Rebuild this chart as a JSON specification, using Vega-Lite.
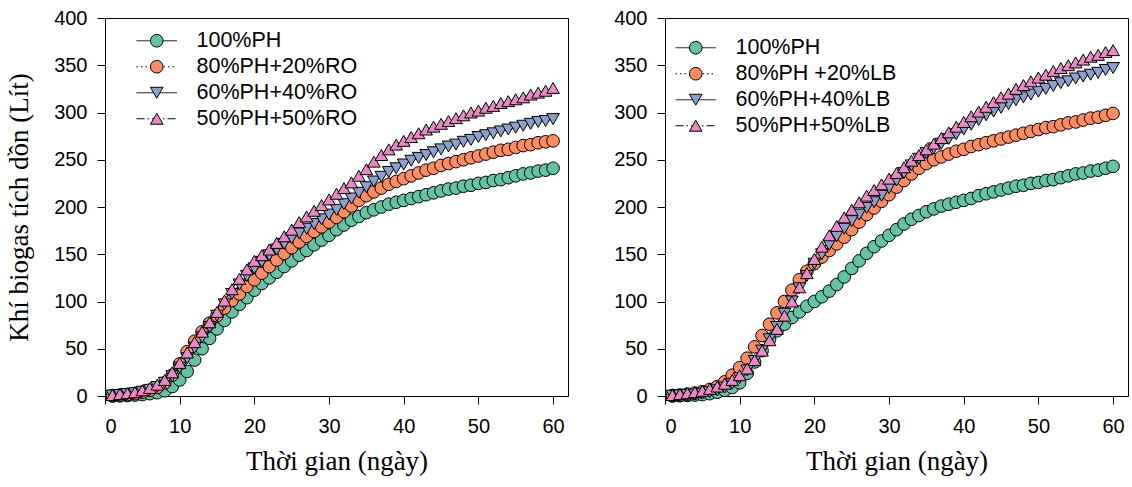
{
"$schema": "https://vega.github.io/schema/vega-lite/v6.json",
"padding": {"left": 5, "top": 7, "right": 4, "bottom": 2},
"spacing": 44,
"config": {
  "view": {"stroke": "black", "strokeWidth": 1},
  "axis": {"grid": false, "domainColor": "black", "tickColor": "black", "tickSize": 8, "labelFont": "Liberation Sans", "labelFontSize": 20, "labelColor": "black", "titleFont": "Liberation Serif", "titleFontSize": 27, "titleFontWeight": "normal", "titleColor": "black"},
  "axisX": {"labelPadding": 12, "titlePadding": 12},
  "axisY": {"labelPadding": 10, "titlePadding": 20},
  "legend": {"labelFont": "Liberation Sans", "labelFontSize": 21.5, "labelColor": "black", "labelLimit": 400, "padding": 0, "rowPadding": 3, "symbolSize": 160, "symbolStrokeColor": "black", "symbolStrokeWidth": 1, "title": null}
},
"resolve": {"scale": {"color": "independent", "shape": "independent", "strokeDash": "independent"}},
"datasets": {
"ro": [
{"d":1,"s":"100%PH","v":0},{"d":2,"s":"100%PH","v":0.2},{"d":3,"s":"100%PH","v":0.5},{"d":4,"s":"100%PH","v":1},{"d":5,"s":"100%PH","v":1.5},{"d":6,"s":"100%PH","v":2.5},{"d":7,"s":"100%PH","v":3.5},{"d":8,"s":"100%PH","v":5.5},{"d":9,"s":"100%PH","v":10},{"d":10,"s":"100%PH","v":17},
{"d":11,"s":"100%PH","v":26},{"d":12,"s":"100%PH","v":38},{"d":13,"s":"100%PH","v":50},{"d":14,"s":"100%PH","v":61},{"d":15,"s":"100%PH","v":71},{"d":16,"s":"100%PH","v":80},{"d":17,"s":"100%PH","v":89},{"d":18,"s":"100%PH","v":97},{"d":19,"s":"100%PH","v":104},{"d":20,"s":"100%PH","v":112},
{"d":21,"s":"100%PH","v":119},{"d":22,"s":"100%PH","v":125},{"d":23,"s":"100%PH","v":131},{"d":24,"s":"100%PH","v":137},{"d":25,"s":"100%PH","v":143},{"d":26,"s":"100%PH","v":149},{"d":27,"s":"100%PH","v":154},{"d":28,"s":"100%PH","v":160},{"d":29,"s":"100%PH","v":165},{"d":30,"s":"100%PH","v":170},
{"d":31,"s":"100%PH","v":176},{"d":32,"s":"100%PH","v":181},{"d":33,"s":"100%PH","v":186},{"d":34,"s":"100%PH","v":190},{"d":35,"s":"100%PH","v":194},{"d":36,"s":"100%PH","v":197},{"d":37,"s":"100%PH","v":200},{"d":38,"s":"100%PH","v":203},{"d":39,"s":"100%PH","v":205},{"d":40,"s":"100%PH","v":207},
{"d":41,"s":"100%PH","v":209},{"d":42,"s":"100%PH","v":211},{"d":43,"s":"100%PH","v":213},{"d":44,"s":"100%PH","v":215},{"d":45,"s":"100%PH","v":217},{"d":46,"s":"100%PH","v":219},{"d":47,"s":"100%PH","v":220},{"d":48,"s":"100%PH","v":222},{"d":49,"s":"100%PH","v":223},{"d":50,"s":"100%PH","v":225},
{"d":51,"s":"100%PH","v":226},{"d":52,"s":"100%PH","v":228},{"d":53,"s":"100%PH","v":229},{"d":54,"s":"100%PH","v":231},{"d":55,"s":"100%PH","v":233},{"d":56,"s":"100%PH","v":235},{"d":57,"s":"100%PH","v":236},{"d":58,"s":"100%PH","v":238},{"d":59,"s":"100%PH","v":239},{"d":60,"s":"100%PH","v":241},
{"d":1,"s":"80%PH+20%RO","v":0.5},{"d":2,"s":"80%PH+20%RO","v":1},{"d":3,"s":"80%PH+20%RO","v":1.5},{"d":4,"s":"80%PH+20%RO","v":2.5},{"d":5,"s":"80%PH+20%RO","v":4},{"d":6,"s":"80%PH+20%RO","v":6},{"d":7,"s":"80%PH+20%RO","v":9},{"d":8,"s":"80%PH+20%RO","v":14},{"d":9,"s":"80%PH+20%RO","v":22},{"d":10,"s":"80%PH+20%RO","v":34},
{"d":11,"s":"80%PH+20%RO","v":47},{"d":12,"s":"80%PH+20%RO","v":58},{"d":13,"s":"80%PH+20%RO","v":68},{"d":14,"s":"80%PH+20%RO","v":77},{"d":15,"s":"80%PH+20%RO","v":85},{"d":16,"s":"80%PH+20%RO","v":93},{"d":17,"s":"80%PH+20%RO","v":101},{"d":18,"s":"80%PH+20%RO","v":108},{"d":19,"s":"80%PH+20%RO","v":116},{"d":20,"s":"80%PH+20%RO","v":123},
{"d":21,"s":"80%PH+20%RO","v":130},{"d":22,"s":"80%PH+20%RO","v":137},{"d":23,"s":"80%PH+20%RO","v":144},{"d":24,"s":"80%PH+20%RO","v":151},{"d":25,"s":"80%PH+20%RO","v":157},{"d":26,"s":"80%PH+20%RO","v":163},{"d":27,"s":"80%PH+20%RO","v":169},{"d":28,"s":"80%PH+20%RO","v":174},{"d":29,"s":"80%PH+20%RO","v":179},{"d":30,"s":"80%PH+20%RO","v":184},
{"d":31,"s":"80%PH+20%RO","v":189},{"d":32,"s":"80%PH+20%RO","v":195},{"d":33,"s":"80%PH+20%RO","v":201},{"d":34,"s":"80%PH+20%RO","v":207},{"d":35,"s":"80%PH+20%RO","v":212},{"d":36,"s":"80%PH+20%RO","v":216},{"d":37,"s":"80%PH+20%RO","v":220},{"d":38,"s":"80%PH+20%RO","v":224},{"d":39,"s":"80%PH+20%RO","v":227},{"d":40,"s":"80%PH+20%RO","v":230},
{"d":41,"s":"80%PH+20%RO","v":233},{"d":42,"s":"80%PH+20%RO","v":236},{"d":43,"s":"80%PH+20%RO","v":239},{"d":44,"s":"80%PH+20%RO","v":241},{"d":45,"s":"80%PH+20%RO","v":244},{"d":46,"s":"80%PH+20%RO","v":246},{"d":47,"s":"80%PH+20%RO","v":248},{"d":48,"s":"80%PH+20%RO","v":250},{"d":49,"s":"80%PH+20%RO","v":252},{"d":50,"s":"80%PH+20%RO","v":254},
{"d":51,"s":"80%PH+20%RO","v":256},{"d":52,"s":"80%PH+20%RO","v":258},{"d":53,"s":"80%PH+20%RO","v":260},{"d":54,"s":"80%PH+20%RO","v":261},{"d":55,"s":"80%PH+20%RO","v":263},{"d":56,"s":"80%PH+20%RO","v":265},{"d":57,"s":"80%PH+20%RO","v":266},{"d":58,"s":"80%PH+20%RO","v":268},{"d":59,"s":"80%PH+20%RO","v":269},{"d":60,"s":"80%PH+20%RO","v":270},
{"d":1,"s":"60%PH+40%RO","v":0.5},{"d":2,"s":"60%PH+40%RO","v":1},{"d":3,"s":"60%PH+40%RO","v":2},{"d":4,"s":"60%PH+40%RO","v":3},{"d":5,"s":"60%PH+40%RO","v":4.5},{"d":6,"s":"60%PH+40%RO","v":6.5},{"d":7,"s":"60%PH+40%RO","v":9.5},{"d":8,"s":"60%PH+40%RO","v":14},{"d":9,"s":"60%PH+40%RO","v":21},{"d":10,"s":"60%PH+40%RO","v":30},
{"d":11,"s":"60%PH+40%RO","v":40},{"d":12,"s":"60%PH+40%RO","v":51},{"d":13,"s":"60%PH+40%RO","v":62},{"d":14,"s":"60%PH+40%RO","v":73},{"d":15,"s":"60%PH+40%RO","v":85},{"d":16,"s":"60%PH+40%RO","v":97},{"d":17,"s":"60%PH+40%RO","v":108},{"d":18,"s":"60%PH+40%RO","v":118},{"d":19,"s":"60%PH+40%RO","v":127},{"d":20,"s":"60%PH+40%RO","v":135},
{"d":21,"s":"60%PH+40%RO","v":142},{"d":22,"s":"60%PH+40%RO","v":149},{"d":23,"s":"60%PH+40%RO","v":155},{"d":24,"s":"60%PH+40%RO","v":161},{"d":25,"s":"60%PH+40%RO","v":167},{"d":26,"s":"60%PH+40%RO","v":172},{"d":27,"s":"60%PH+40%RO","v":177},{"d":28,"s":"60%PH+40%RO","v":182},{"d":29,"s":"60%PH+40%RO","v":187},{"d":30,"s":"60%PH+40%RO","v":192},
{"d":31,"s":"60%PH+40%RO","v":197},{"d":32,"s":"60%PH+40%RO","v":203},{"d":33,"s":"60%PH+40%RO","v":209},{"d":34,"s":"60%PH+40%RO","v":215},{"d":35,"s":"60%PH+40%RO","v":221},{"d":36,"s":"60%PH+40%RO","v":227},{"d":37,"s":"60%PH+40%RO","v":232},{"d":38,"s":"60%PH+40%RO","v":237},{"d":39,"s":"60%PH+40%RO","v":241},{"d":40,"s":"60%PH+40%RO","v":245},
{"d":41,"s":"60%PH+40%RO","v":249},{"d":42,"s":"60%PH+40%RO","v":252},{"d":43,"s":"60%PH+40%RO","v":255},{"d":44,"s":"60%PH+40%RO","v":258},{"d":45,"s":"60%PH+40%RO","v":261},{"d":46,"s":"60%PH+40%RO","v":264},{"d":47,"s":"60%PH+40%RO","v":266},{"d":48,"s":"60%PH+40%RO","v":269},{"d":49,"s":"60%PH+40%RO","v":271},{"d":50,"s":"60%PH+40%RO","v":274},
{"d":51,"s":"60%PH+40%RO","v":276},{"d":52,"s":"60%PH+40%RO","v":278},{"d":53,"s":"60%PH+40%RO","v":280},{"d":54,"s":"60%PH+40%RO","v":282},{"d":55,"s":"60%PH+40%RO","v":284},{"d":56,"s":"60%PH+40%RO","v":286},{"d":57,"s":"60%PH+40%RO","v":288},{"d":58,"s":"60%PH+40%RO","v":290},{"d":59,"s":"60%PH+40%RO","v":291},{"d":60,"s":"60%PH+40%RO","v":293},
{"d":1,"s":"50%PH+50%RO","v":1},{"d":2,"s":"50%PH+50%RO","v":2},{"d":3,"s":"50%PH+50%RO","v":3},{"d":4,"s":"50%PH+50%RO","v":4},{"d":5,"s":"50%PH+50%RO","v":6},{"d":6,"s":"50%PH+50%RO","v":8.5},{"d":7,"s":"50%PH+50%RO","v":12},{"d":8,"s":"50%PH+50%RO","v":17},{"d":9,"s":"50%PH+50%RO","v":25},{"d":10,"s":"50%PH+50%RO","v":35},
{"d":11,"s":"50%PH+50%RO","v":46},{"d":12,"s":"50%PH+50%RO","v":57},{"d":13,"s":"50%PH+50%RO","v":68},{"d":14,"s":"50%PH+50%RO","v":78},{"d":15,"s":"50%PH+50%RO","v":89},{"d":16,"s":"50%PH+50%RO","v":101},{"d":17,"s":"50%PH+50%RO","v":113},{"d":18,"s":"50%PH+50%RO","v":124},{"d":19,"s":"50%PH+50%RO","v":134},{"d":20,"s":"50%PH+50%RO","v":143},
{"d":21,"s":"50%PH+50%RO","v":149},{"d":22,"s":"50%PH+50%RO","v":155},{"d":23,"s":"50%PH+50%RO","v":162},{"d":24,"s":"50%PH+50%RO","v":169},{"d":25,"s":"50%PH+50%RO","v":176},{"d":26,"s":"50%PH+50%RO","v":184},{"d":27,"s":"50%PH+50%RO","v":190},{"d":28,"s":"50%PH+50%RO","v":196},{"d":29,"s":"50%PH+50%RO","v":202},{"d":30,"s":"50%PH+50%RO","v":208},
{"d":31,"s":"50%PH+50%RO","v":214},{"d":32,"s":"50%PH+50%RO","v":220},{"d":33,"s":"50%PH+50%RO","v":226},{"d":34,"s":"50%PH+50%RO","v":233},{"d":35,"s":"50%PH+50%RO","v":240},{"d":36,"s":"50%PH+50%RO","v":248},{"d":37,"s":"50%PH+50%RO","v":255},{"d":38,"s":"50%PH+50%RO","v":261},{"d":39,"s":"50%PH+50%RO","v":266},{"d":40,"s":"50%PH+50%RO","v":270},
{"d":41,"s":"50%PH+50%RO","v":274},{"d":42,"s":"50%PH+50%RO","v":278},{"d":43,"s":"50%PH+50%RO","v":282},{"d":44,"s":"50%PH+50%RO","v":285},{"d":45,"s":"50%PH+50%RO","v":288},{"d":46,"s":"50%PH+50%RO","v":291},{"d":47,"s":"50%PH+50%RO","v":294},{"d":48,"s":"50%PH+50%RO","v":297},{"d":49,"s":"50%PH+50%RO","v":300},{"d":50,"s":"50%PH+50%RO","v":302},
{"d":51,"s":"50%PH+50%RO","v":305},{"d":52,"s":"50%PH+50%RO","v":307},{"d":53,"s":"50%PH+50%RO","v":310},{"d":54,"s":"50%PH+50%RO","v":312},{"d":55,"s":"50%PH+50%RO","v":314},{"d":56,"s":"50%PH+50%RO","v":316},{"d":57,"s":"50%PH+50%RO","v":319},{"d":58,"s":"50%PH+50%RO","v":321},{"d":59,"s":"50%PH+50%RO","v":323},{"d":60,"s":"50%PH+50%RO","v":326}
],
"lb": [
{"d":1,"s":"100%PH","v":0},{"d":2,"s":"100%PH","v":0.3},{"d":3,"s":"100%PH","v":0.6},{"d":4,"s":"100%PH","v":1},{"d":5,"s":"100%PH","v":1.5},{"d":6,"s":"100%PH","v":2.5},{"d":7,"s":"100%PH","v":4},{"d":8,"s":"100%PH","v":6},{"d":9,"s":"100%PH","v":9},{"d":10,"s":"100%PH","v":14},
{"d":11,"s":"100%PH","v":24},{"d":12,"s":"100%PH","v":36},{"d":13,"s":"100%PH","v":48},{"d":14,"s":"100%PH","v":60},{"d":15,"s":"100%PH","v":69},{"d":16,"s":"100%PH","v":76},{"d":17,"s":"100%PH","v":83},{"d":18,"s":"100%PH","v":89},{"d":19,"s":"100%PH","v":95},{"d":20,"s":"100%PH","v":100},
{"d":21,"s":"100%PH","v":105},{"d":22,"s":"100%PH","v":111},{"d":23,"s":"100%PH","v":118},{"d":24,"s":"100%PH","v":126},{"d":25,"s":"100%PH","v":135},{"d":26,"s":"100%PH","v":143},{"d":27,"s":"100%PH","v":151},{"d":28,"s":"100%PH","v":158},{"d":29,"s":"100%PH","v":164},{"d":30,"s":"100%PH","v":170},
{"d":31,"s":"100%PH","v":176},{"d":32,"s":"100%PH","v":182},{"d":33,"s":"100%PH","v":187},{"d":34,"s":"100%PH","v":191},{"d":35,"s":"100%PH","v":195},{"d":36,"s":"100%PH","v":198},{"d":37,"s":"100%PH","v":201},{"d":38,"s":"100%PH","v":203},{"d":39,"s":"100%PH","v":205},{"d":40,"s":"100%PH","v":207},
{"d":41,"s":"100%PH","v":209},{"d":42,"s":"100%PH","v":212},{"d":43,"s":"100%PH","v":214},{"d":44,"s":"100%PH","v":216},{"d":45,"s":"100%PH","v":218},{"d":46,"s":"100%PH","v":220},{"d":47,"s":"100%PH","v":222},{"d":48,"s":"100%PH","v":223},{"d":49,"s":"100%PH","v":225},{"d":50,"s":"100%PH","v":226},
{"d":51,"s":"100%PH","v":228},{"d":52,"s":"100%PH","v":229},{"d":53,"s":"100%PH","v":231},{"d":54,"s":"100%PH","v":233},{"d":55,"s":"100%PH","v":235},{"d":56,"s":"100%PH","v":236},{"d":57,"s":"100%PH","v":238},{"d":58,"s":"100%PH","v":239},{"d":59,"s":"100%PH","v":241},{"d":60,"s":"100%PH","v":243},
{"d":1,"s":"80%PH +20%LB","v":0.5},{"d":2,"s":"80%PH +20%LB","v":1},{"d":3,"s":"80%PH +20%LB","v":2},{"d":4,"s":"80%PH +20%LB","v":3},{"d":5,"s":"80%PH +20%LB","v":4.5},{"d":6,"s":"80%PH +20%LB","v":7},{"d":7,"s":"80%PH +20%LB","v":10},{"d":8,"s":"80%PH +20%LB","v":15},{"d":9,"s":"80%PH +20%LB","v":22},{"d":10,"s":"80%PH +20%LB","v":30},
{"d":11,"s":"80%PH +20%LB","v":40},{"d":12,"s":"80%PH +20%LB","v":52},{"d":13,"s":"80%PH +20%LB","v":64},{"d":14,"s":"80%PH +20%LB","v":76},{"d":15,"s":"80%PH +20%LB","v":88},{"d":16,"s":"80%PH +20%LB","v":100},{"d":17,"s":"80%PH +20%LB","v":112},{"d":18,"s":"80%PH +20%LB","v":123},{"d":19,"s":"80%PH +20%LB","v":132},{"d":20,"s":"80%PH +20%LB","v":140},
{"d":21,"s":"80%PH +20%LB","v":147},{"d":22,"s":"80%PH +20%LB","v":154},{"d":23,"s":"80%PH +20%LB","v":161},{"d":24,"s":"80%PH +20%LB","v":168},{"d":25,"s":"80%PH +20%LB","v":176},{"d":26,"s":"80%PH +20%LB","v":184},{"d":27,"s":"80%PH +20%LB","v":192},{"d":28,"s":"80%PH +20%LB","v":199},{"d":29,"s":"80%PH +20%LB","v":206},{"d":30,"s":"80%PH +20%LB","v":213},
{"d":31,"s":"80%PH +20%LB","v":221},{"d":32,"s":"80%PH +20%LB","v":228},{"d":33,"s":"80%PH +20%LB","v":235},{"d":34,"s":"80%PH +20%LB","v":241},{"d":35,"s":"80%PH +20%LB","v":246},{"d":36,"s":"80%PH +20%LB","v":250},{"d":37,"s":"80%PH +20%LB","v":253},{"d":38,"s":"80%PH +20%LB","v":256},{"d":39,"s":"80%PH +20%LB","v":259},{"d":40,"s":"80%PH +20%LB","v":261},
{"d":41,"s":"80%PH +20%LB","v":264},{"d":42,"s":"80%PH +20%LB","v":266},{"d":43,"s":"80%PH +20%LB","v":268},{"d":44,"s":"80%PH +20%LB","v":270},{"d":45,"s":"80%PH +20%LB","v":272},{"d":46,"s":"80%PH +20%LB","v":274},{"d":47,"s":"80%PH +20%LB","v":276},{"d":48,"s":"80%PH +20%LB","v":278},{"d":49,"s":"80%PH +20%LB","v":280},{"d":50,"s":"80%PH +20%LB","v":282},
{"d":51,"s":"80%PH +20%LB","v":284},{"d":52,"s":"80%PH +20%LB","v":285},{"d":53,"s":"80%PH +20%LB","v":287},{"d":54,"s":"80%PH +20%LB","v":289},{"d":55,"s":"80%PH +20%LB","v":290},{"d":56,"s":"80%PH +20%LB","v":292},{"d":57,"s":"80%PH +20%LB","v":294},{"d":58,"s":"80%PH +20%LB","v":295},{"d":59,"s":"80%PH +20%LB","v":297},{"d":60,"s":"80%PH +20%LB","v":299},
{"d":1,"s":"60%PH+40%LB","v":0.3},{"d":2,"s":"60%PH+40%LB","v":0.6},{"d":3,"s":"60%PH+40%LB","v":1},{"d":4,"s":"60%PH+40%LB","v":1.5},{"d":5,"s":"60%PH+40%LB","v":2.5},{"d":6,"s":"60%PH+40%LB","v":4},{"d":7,"s":"60%PH+40%LB","v":6},{"d":8,"s":"60%PH+40%LB","v":9},{"d":9,"s":"60%PH+40%LB","v":13},{"d":10,"s":"60%PH+40%LB","v":19},
{"d":11,"s":"60%PH+40%LB","v":27},{"d":12,"s":"60%PH+40%LB","v":37},{"d":13,"s":"60%PH+40%LB","v":48},{"d":14,"s":"60%PH+40%LB","v":60},{"d":15,"s":"60%PH+40%LB","v":73},{"d":16,"s":"60%PH+40%LB","v":87},{"d":17,"s":"60%PH+40%LB","v":100},{"d":18,"s":"60%PH+40%LB","v":114},{"d":19,"s":"60%PH+40%LB","v":127},{"d":20,"s":"60%PH+40%LB","v":140},
{"d":21,"s":"60%PH+40%LB","v":150},{"d":22,"s":"60%PH+40%LB","v":160},{"d":23,"s":"60%PH+40%LB","v":169},{"d":24,"s":"60%PH+40%LB","v":177},{"d":25,"s":"60%PH+40%LB","v":185},{"d":26,"s":"60%PH+40%LB","v":192},{"d":27,"s":"60%PH+40%LB","v":199},{"d":28,"s":"60%PH+40%LB","v":205},{"d":29,"s":"60%PH+40%LB","v":212},{"d":30,"s":"60%PH+40%LB","v":220},
{"d":31,"s":"60%PH+40%LB","v":228},{"d":32,"s":"60%PH+40%LB","v":236},{"d":33,"s":"60%PH+40%LB","v":244},{"d":34,"s":"60%PH+40%LB","v":251},{"d":35,"s":"60%PH+40%LB","v":257},{"d":36,"s":"60%PH+40%LB","v":262},{"d":37,"s":"60%PH+40%LB","v":267},{"d":38,"s":"60%PH+40%LB","v":272},{"d":39,"s":"60%PH+40%LB","v":277},{"d":40,"s":"60%PH+40%LB","v":282},
{"d":41,"s":"60%PH+40%LB","v":287},{"d":42,"s":"60%PH+40%LB","v":292},{"d":43,"s":"60%PH+40%LB","v":297},{"d":44,"s":"60%PH+40%LB","v":301},{"d":45,"s":"60%PH+40%LB","v":305},{"d":46,"s":"60%PH+40%LB","v":309},{"d":47,"s":"60%PH+40%LB","v":313},{"d":48,"s":"60%PH+40%LB","v":316},{"d":49,"s":"60%PH+40%LB","v":319},{"d":50,"s":"60%PH+40%LB","v":322},
{"d":51,"s":"60%PH+40%LB","v":325},{"d":52,"s":"60%PH+40%LB","v":328},{"d":53,"s":"60%PH+40%LB","v":331},{"d":54,"s":"60%PH+40%LB","v":333},{"d":55,"s":"60%PH+40%LB","v":336},{"d":56,"s":"60%PH+40%LB","v":338},{"d":57,"s":"60%PH+40%LB","v":340},{"d":58,"s":"60%PH+40%LB","v":342},{"d":59,"s":"60%PH+40%LB","v":345},{"d":60,"s":"60%PH+40%LB","v":347},
{"d":1,"s":"50%PH+50%LB","v":1},{"d":2,"s":"50%PH+50%LB","v":2},{"d":3,"s":"50%PH+50%LB","v":3},{"d":4,"s":"50%PH+50%LB","v":4},{"d":5,"s":"50%PH+50%LB","v":5.5},{"d":6,"s":"50%PH+50%LB","v":7.5},{"d":7,"s":"50%PH+50%LB","v":10},{"d":8,"s":"50%PH+50%LB","v":13},{"d":9,"s":"50%PH+50%LB","v":17},{"d":10,"s":"50%PH+50%LB","v":22},
{"d":11,"s":"50%PH+50%LB","v":29},{"d":12,"s":"50%PH+50%LB","v":38},{"d":13,"s":"50%PH+50%LB","v":48},{"d":14,"s":"50%PH+50%LB","v":59},{"d":15,"s":"50%PH+50%LB","v":71},{"d":16,"s":"50%PH+50%LB","v":85},{"d":17,"s":"50%PH+50%LB","v":100},{"d":18,"s":"50%PH+50%LB","v":115},{"d":19,"s":"50%PH+50%LB","v":130},{"d":20,"s":"50%PH+50%LB","v":145},
{"d":21,"s":"50%PH+50%LB","v":158},{"d":22,"s":"50%PH+50%LB","v":170},{"d":23,"s":"50%PH+50%LB","v":180},{"d":24,"s":"50%PH+50%LB","v":189},{"d":25,"s":"50%PH+50%LB","v":197},{"d":26,"s":"50%PH+50%LB","v":205},{"d":27,"s":"50%PH+50%LB","v":212},{"d":28,"s":"50%PH+50%LB","v":218},{"d":29,"s":"50%PH+50%LB","v":224},{"d":30,"s":"50%PH+50%LB","v":230},
{"d":31,"s":"50%PH+50%LB","v":236},{"d":32,"s":"50%PH+50%LB","v":242},{"d":33,"s":"50%PH+50%LB","v":249},{"d":34,"s":"50%PH+50%LB","v":255},{"d":35,"s":"50%PH+50%LB","v":261},{"d":36,"s":"50%PH+50%LB","v":267},{"d":37,"s":"50%PH+50%LB","v":273},{"d":38,"s":"50%PH+50%LB","v":279},{"d":39,"s":"50%PH+50%LB","v":285},{"d":40,"s":"50%PH+50%LB","v":290},
{"d":41,"s":"50%PH+50%LB","v":296},{"d":42,"s":"50%PH+50%LB","v":301},{"d":43,"s":"50%PH+50%LB","v":306},{"d":44,"s":"50%PH+50%LB","v":311},{"d":45,"s":"50%PH+50%LB","v":316},{"d":46,"s":"50%PH+50%LB","v":320},{"d":47,"s":"50%PH+50%LB","v":325},{"d":48,"s":"50%PH+50%LB","v":329},{"d":49,"s":"50%PH+50%LB","v":333},{"d":50,"s":"50%PH+50%LB","v":337},
{"d":51,"s":"50%PH+50%LB","v":340},{"d":52,"s":"50%PH+50%LB","v":344},{"d":53,"s":"50%PH+50%LB","v":347},{"d":54,"s":"50%PH+50%LB","v":350},{"d":55,"s":"50%PH+50%LB","v":353},{"d":56,"s":"50%PH+50%LB","v":356},{"d":57,"s":"50%PH+50%LB","v":359},{"d":58,"s":"50%PH+50%LB","v":361},{"d":59,"s":"50%PH+50%LB","v":364},{"d":60,"s":"50%PH+50%LB","v":366}
]
},
"hconcat": [
{
  "data": {"name": "ro"},
  "width": 463, "height": 378,
  "encoding": {
    "x": {"field": "d", "type": "quantitative", "scale": {"domain": [0, 62], "nice": false}, "axis": {"values": [0,10,20,30,40,50,60], "title": "Thời gian (ngày)"}},
    "y": {"field": "v", "type": "quantitative", "scale": {"domain": [0, 400], "nice": false}, "axis": {"values": [0,50,100,150,200,250,300,350,400], "title": "Khí biogas tích dồn (Lít)"}}
  },
  "layer": [
    {
      "transform": [{"calculate": "datum.s + ' '", "as": "sl"}],
      "mark": {"type": "line", "stroke": "black", "strokeWidth": 1},
      "encoding": {
        "strokeDash": {"field": "sl", "type": "nominal",
          "scale": {"domain": ["100%PH ","80%PH+20%RO ","60%PH+40%RO ","50%PH+50%RO "], "range": [[1,0],[1.5,3],[1,0],[8,3,1.5,3]]},
          "legend": {"orient": "none", "legendX": 41, "legendY": 12, "symbolType": "M-3.2,0H3.2", "symbolFillColor": "transparent", "labelOpacity": 0, "labelOffset": 29, "zindex": 1}}
      }
    },
    {
      "mark": {"type": "point", "filled": true, "size": 160, "stroke": "black", "strokeWidth": 1, "opacity": 1},
      "encoding": {
        "color": {"field": "s", "type": "nominal",
          "scale": {"domain": ["100%PH","80%PH+20%RO","60%PH+40%RO","50%PH+50%RO"], "range": ["#66c2a5","#fc8d62","#8da0cb","#e78ac3"]},
          "legend": {"orient": "none", "legendX": 41, "legendY": 12, "labelOffset": 29, "zindex": 2}},
        "shape": {"field": "s", "type": "nominal",
          "scale": {"domain": ["100%PH","80%PH+20%RO","60%PH+40%RO","50%PH+50%RO"], "range": ["circle","circle","triangle-down","triangle-up"]}}
      }
    }
  ]
},
{
  "data": {"name": "lb"},
  "width": 463, "height": 378,
  "encoding": {
    "x": {"field": "d", "type": "quantitative", "scale": {"domain": [0, 62], "nice": false}, "axis": {"values": [0,10,20,30,40,50,60], "title": "Thời gian (ngày)"}},
    "y": {"field": "v", "type": "quantitative", "scale": {"domain": [0, 400], "nice": false}, "axis": {"values": [0,50,100,150,200,250,300,350,400], "title": null}}
  },
  "layer": [
    {
      "transform": [{"calculate": "datum.s + ' '", "as": "sl"}],
      "mark": {"type": "line", "stroke": "black", "strokeWidth": 1},
      "encoding": {
        "strokeDash": {"field": "sl", "type": "nominal",
          "scale": {"domain": ["100%PH ","80%PH +20%LB ","60%PH+40%LB ","50%PH+50%LB "], "range": [[1,0],[1.5,3],[1,0],[8,3,1.5,3]]},
          "legend": {"orient": "none", "legendX": 20, "legendY": 19, "symbolType": "M-3.2,0H3.2", "symbolFillColor": "transparent", "labelOpacity": 0, "labelOffset": 29, "zindex": 1}}
      }
    },
    {
      "mark": {"type": "point", "filled": true, "size": 160, "stroke": "black", "strokeWidth": 1, "opacity": 1},
      "encoding": {
        "color": {"field": "s", "type": "nominal",
          "scale": {"domain": ["100%PH","80%PH +20%LB","60%PH+40%LB","50%PH+50%LB"], "range": ["#66c2a5","#fc8d62","#8da0cb","#e78ac3"]},
          "legend": {"orient": "none", "legendX": 20, "legendY": 19, "labelOffset": 29, "zindex": 2}},
        "shape": {"field": "s", "type": "nominal",
          "scale": {"domain": ["100%PH","80%PH +20%LB","60%PH+40%LB","50%PH+50%LB"], "range": ["circle","circle","triangle-down","triangle-up"]}}
      }
    }
  ]
}
]
}
